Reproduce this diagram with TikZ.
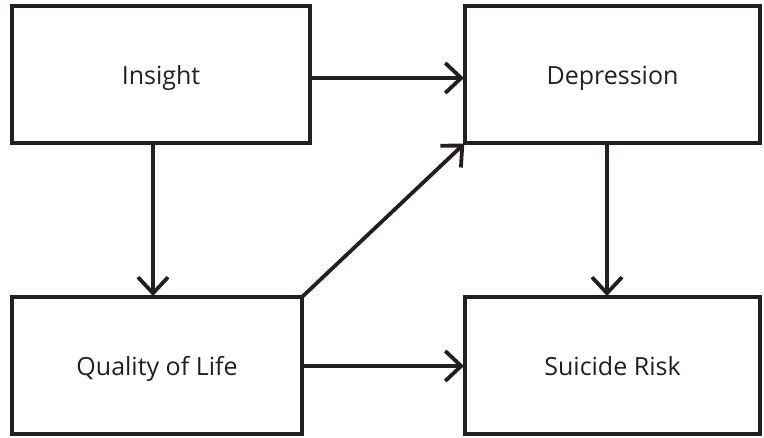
\documentclass[tikz,border=0pt]{standalone}
\usepackage{fontspec}
\setmainfont{Open Sans}
\usetikzlibrary{arrows.meta,calc}
\definecolor{ink}{HTML}{231F20}
\begin{document}
\begin{tikzpicture}[x=1pt,y=-1pt,
  box/.style={draw=ink,line width=4pt,rectangle,outer sep=0pt,inner sep=0pt,
    text height=19pt,text depth=0pt,
    font=\fontsize{25}{28}\selectfont,text=ink},
  link/.style={draw=ink,line width=3.8pt,
    -{Straight Barb[length=16pt,width=30pt,line width=3.8pt]},shorten >=1pt}]
\useasboundingbox (0,0) rectangle (764,437);
\node[box,minimum width=298pt,minimum height=137pt] (ins) at (161,74.5) {Insight};
\node[box,minimum width=295pt,minimum height=137pt] (dep) at (612.5,74.5) {Depression};
\node[box,minimum width=290pt,minimum height=137pt] (qol) at (157,365.5) {Quality of Life};
\node[box,minimum width=295pt,minimum height=137pt] (sui) at (612.5,365.5) {Suicide Risk};
\draw[link] ($(ins.east)+(0,3.5)$) -- ($(dep.west)+(0,3.5)$);
\draw[link] ($(ins.south)+(-8,0)$) -- ($(qol.north)+(-4,0)$);
\draw[link] ($(dep.south)+(-5.5,0)$) -- ($(sui.north)+(-5.5,0)$);
\draw[link] ($(qol.east)+(0,0.5)$) -- ($(sui.west)+(0,0.5)$);
\draw[link] (qol.north east) -- (dep.south west);
\end{tikzpicture}
\end{document}
